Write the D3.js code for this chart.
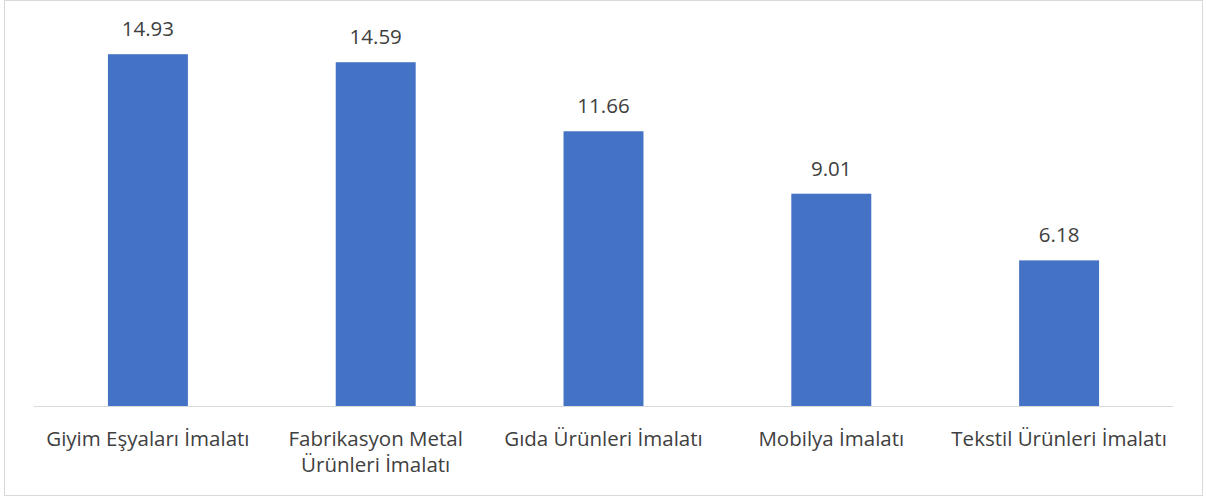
<!DOCTYPE html>
<html lang="tr">
<head>
<meta charset="UTF-8">
<title>İmalat sektörleri</title>
<script src="https://d3js.org/d3.v7.min.js"></script>
<style>
  body { margin: 0; background: #fff; }
  svg text { font-family: "Open Sans", "Noto Sans", sans-serif; fill: #404040; }
  .value-label { font-size: 20.5px; }
  .cat-label { font-size: 20.5px; }
</style>
</head>
<body>
<div id="chart"></div>
<script>
const categories = [
  "Giyim Eşyaları İmalatı",
  "Fabrikasyon Metal Ürünleri İmalatı",
  "Gıda Ürünleri İmalatı",
  "Mobilya İmalatı",
  "Tekstil Ürünleri İmalatı"
];
const values = [14.93, 14.59, 11.66, 9.01, 6.18];

const width = 1206, height = 497;
const left = 34, right = 1173, baseY = 406, topY = 29;

const svg = d3.select("#chart").append("svg")
  .attr("width", width)
  .attr("height", height);

// chart frame
svg.append("rect")
  .attr("x", 4.5).attr("y", 0.5)
  .attr("width", 1198).attr("height", 495)
  .attr("fill", "#fff")
  .attr("stroke", "#d9d9d9");

const x = d3.scaleBand()
  .domain(categories)
  .range([left, right])
  .paddingInner(0.649)
  .paddingOuter(0.3245);

const y = d3.scaleLinear()
  .domain([0, 16])
  .range([baseY, topY]);

svg.selectAll(".bar")
  .data(values)
  .enter().append("rect")
  .attr("class", "bar")
  .attr("x", (d, i) => x(categories[i]))
  .attr("y", d => y(d))
  .attr("width", x.bandwidth())
  .attr("height", d => y(0) - y(d))
  .attr("fill", "#4472c4");

// value labels
svg.selectAll(".value-label")
  .data(values)
  .enter().append("text")
  .attr("class", "value-label")
  .attr("x", (d, i) => x(categories[i]) + x.bandwidth() / 2)
  .attr("y", d => y(d) - 18)
  .attr("text-anchor", "middle")
  .text(d => d.toFixed(2));

// axis baseline
svg.append("line")
  .attr("x1", left).attr("x2", right)
  .attr("y1", baseY + 0.5).attr("y2", baseY + 0.5)
  .attr("stroke", "#d9d9d9")
  .attr("stroke-width", 1);

// category labels, wrapped to the band step
const step = x.step();
categories.forEach((c, i) => {
  const cx = x(c) + x.bandwidth() / 2;
  const t = svg.append("text")
    .attr("class", "cat-label")
    .attr("text-anchor", "middle")
    .attr("x", cx)
    .attr("y", 446);
  const words = c.split(" ");
  let line = [];
  let tspan = t.append("tspan").attr("x", cx).attr("dy", 0);
  words.forEach(w => {
    line.push(w);
    tspan.text(line.join(" "));
    if (tspan.node().getComputedTextLength() > step - 8 && line.length > 1) {
      line.pop();
      tspan.text(line.join(" "));
      line = [w];
      tspan = t.append("tspan").attr("x", cx).attr("dy", 26).text(w);
    }
  });
});
</script>
</body>
</html>
